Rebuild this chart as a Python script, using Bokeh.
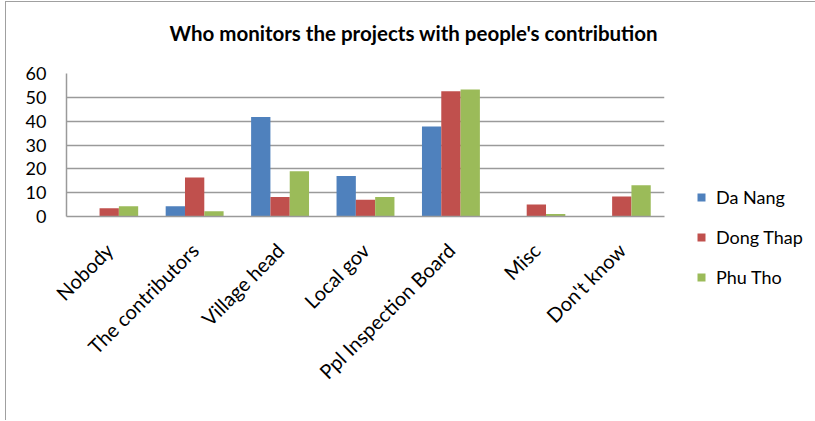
from math import pi
from bokeh.plotting import figure
from bokeh.models import (ColumnDataSource, FactorRange, Range1d, Legend, LegendItem,
                          SingleIntervalTicker, Label)
from bokeh.transform import dodge
from bokeh.embed import file_html
from bokeh.resources import INLINE

categories = ["Nobody", "The contributors", "Village head", "Local gov",
              "Ppl Inspection Board", "Misc", "Don't know"]
da_nang = [0, 4.3, 41.8, 17.0, 37.8, 0, 0]
dong_thap = [3.5, 16.4, 8.2, 7.0, 52.6, 5.0, 8.4]
phu_tho = [4.3, 2.2, 19.0, 8.2, 53.3, 1.0, 13.1]
series_names = ["Da Nang", "Dong Thap", "Phu Tho"]
colors = ["#4F81BD", "#C0504D", "#9BBB59"]
title_text = "Who monitors the projects with people's contribution"

FONT = "Lato"

src = ColumnDataSource(dict(cat=categories, dn=da_nang, dt=dong_thap, pt=phu_tho))

border_css = ("linear-gradient(#a0a0a0,#a0a0a0) 5px 1px / 1px 100% no-repeat, "
              "linear-gradient(#a0a0a0,#a0a0a0) 5px 1px / 100% 1px no-repeat, white")

p = figure(x_range=FactorRange(*categories, range_padding=0),
           y_range=Range1d(0, 60),
           frame_width=598, frame_height=143,
           min_border_left=66, min_border_right=150,
           min_border_top=73, min_border_bottom=204,
           output_backend="svg", toolbar_location=None,
           styles={"background": border_css})
p.outline_line_color = None
p.background_fill_color = "white"
p.border_fill_alpha = 0

w = 0.226
renderers = []
for field, off, col in zip(["dn", "dt", "pt"], [-w, 0, w], colors):
    r = p.vbar(x=dodge("cat", off, range=p.x_range), top=field, width=w,
               source=src, fill_color=col, line_color=None)
    renderers.append(r)

# axes
p.xgrid.grid_line_color = None
p.ygrid.grid_line_color = "#9a9a9a"
p.ygrid.grid_line_width = 1.5
p.yaxis.ticker = SingleIntervalTicker(interval=10)
for ax in (p.xaxis, p.yaxis):
    ax.axis_line_color = "#9a9a9a"
    ax.axis_line_width = 1.5
    ax.major_tick_line_color = None
    ax.minor_tick_line_color = None
    ax.major_label_text_font = FONT
    ax.major_label_text_color = "black"
p.yaxis.major_label_text_font_size = "18px"
p.xaxis.major_label_text_font_size = "20px"
p.yaxis.major_label_standoff = 14
p.xaxis.major_label_orientation = pi / 4
p.xaxis.major_label_standoff = 24

legend = Legend(items=[LegendItem(label=n, renderers=[r]) for n, r in zip(series_names, renderers)],
                location=(32, -72), orientation="vertical",
                glyph_width=10, glyph_height=10, label_height=20, label_standoff=10,
                spacing=18, padding=0, margin=0,
                border_line_color=None, background_fill_alpha=0,
                label_text_font=FONT, label_text_font_size="18px",
                label_text_color="black")
p.add_layout(legend, "right")

title = Label(x=103, y=41, x_units="screen", y_units="screen", text=title_text,
              text_align="left", text_baseline="alphabetic",
              text_font=FONT, text_font_style="bold", text_font_size="20.5px",
              text_color="black")
p.add_layout(title, "above")

open("out.html", "w").write(file_html(p, INLINE))
